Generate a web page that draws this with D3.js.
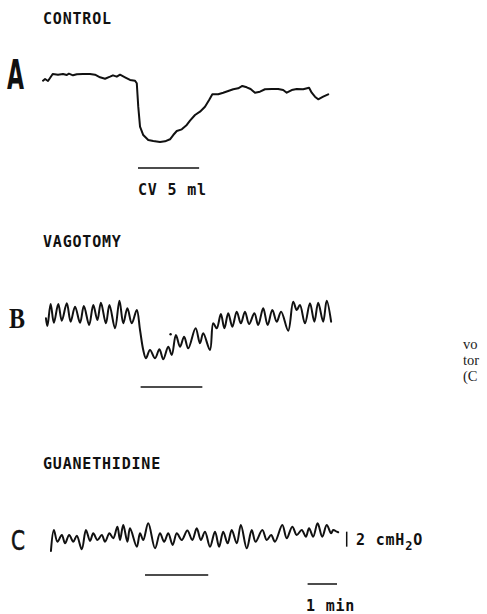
<!DOCTYPE html>
<html>
<head>
<meta charset="utf-8">
<script src="https://cdn.jsdelivr.net/npm/d3@7"></script>
<style>
  body { margin: 0; background: #fff; }
  .trace { fill: none; stroke: #111; stroke-width: 2; stroke-linejoin: round; stroke-linecap: round; }
  .bar { stroke: #111; stroke-width: 1.5; }
  .labelText { font-family: "DejaVu Sans Mono", monospace; font-weight: bold; font-size: 15px; letter-spacing: 0.8px; fill: #111; }
  .bodyText { font-family: "Liberation Serif", serif; font-size: 14.5px; fill: #222; }
</style>
</head>
<body>
<svg id="chart" width="487" height="614"></svg>
<script>
// panel names and letters
var panelTitles = ["CONTROL", "VAGOTOMY", "GUANETHIDINE"];
var panelLetters = ["A", "B", "C"];

// pressure traces, [time (min), pressure (cmH2O above panel base)]
var controlTrace = [
  [0.00, 8.57], [0.07, 8.80], [0.17, 8.53], [0.33, 9.47], [0.51, 9.37], [0.68, 9.47], [0.81, 9.33],
  [0.88, 9.51], [1.02, 9.29], [1.15, 9.43], [1.36, 9.47], [1.60, 9.47], [1.77, 9.37], [1.94, 9.03],
  [2.11, 8.84], [2.28, 9.11], [2.38, 9.29], [2.51, 9.11], [2.62, 9.37], [2.79, 9.03], [2.96, 8.67],
  [3.13, 8.57], [3.19, 8.23], [3.24, 5.11], [3.30, 2.44], [3.41, 1.33], [3.58, 0.67], [3.75, 0.53],
  [3.98, 0.40], [4.15, 0.49], [4.32, 0.76], [4.43, 1.33], [4.55, 1.87], [4.72, 2.09], [4.89, 2.67],
  [5.00, 3.24], [5.17, 4.00], [5.34, 4.44], [5.51, 5.11], [5.65, 6.00], [5.76, 6.76], [5.96, 6.76],
  [6.13, 6.97], [6.30, 7.20], [6.47, 7.43], [6.64, 7.56], [6.78, 7.87], [6.93, 7.69], [7.06, 7.47],
  [7.21, 6.97], [7.38, 7.11], [7.55, 7.43], [7.78, 7.47], [8.00, 7.47], [8.17, 7.33], [8.29, 6.97],
  [8.46, 7.33], [8.63, 7.47], [8.85, 7.43], [9.05, 7.64], [9.14, 6.97], [9.25, 6.44], [9.36, 6.09],
  [9.53, 6.44], [9.70, 6.76]
];

var vagotomyTrace = [
  [0.10, 5.56], [0.15, 4.53], [0.26, 7.47], [0.37, 4.97], [0.52, 7.47], [0.64, 5.24], [0.81, 7.56],
  [0.94, 5.11], [1.09, 7.11], [1.26, 4.97], [1.39, 7.20], [1.57, 4.67], [1.71, 7.33], [1.85, 5.33],
  [1.97, 7.64], [2.14, 4.89], [2.26, 7.33], [2.45, 4.23], [2.60, 7.91], [2.73, 4.89], [2.87, 6.89],
  [3.02, 4.89], [3.19, 6.67], [3.30, 4.00], [3.41, 1.33], [3.50, 0.23], [3.64, 1.33], [3.81, 0.23],
  [3.96, 1.43], [4.09, 0.09], [4.26, 1.77], [4.38, 0.67], [4.52, 3.33], [4.66, 1.77], [4.80, 3.11],
  [4.94, 1.56], [5.19, 4.23], [5.34, 2.23], [5.45, 3.56], [5.68, 1.33], [5.79, 4.89], [5.91, 4.23],
  [6.05, 6.13], [6.17, 4.23], [6.30, 6.23], [6.44, 4.44], [6.59, 6.44], [6.73, 4.89], [6.87, 6.44],
  [7.01, 4.80], [7.19, 6.23], [7.32, 4.67], [7.49, 6.89], [7.64, 4.67], [7.80, 6.67], [7.95, 5.11],
  [8.10, 6.44], [8.34, 3.91], [8.51, 7.77], [8.63, 6.67], [8.74, 7.33], [8.91, 4.89], [9.08, 7.56],
  [9.23, 5.11], [9.36, 7.64], [9.53, 5.11], [9.65, 7.91], [9.80, 5.11]
];
var vagotomySpeck = [[4.34, 3.43]];

var guanethidineTrace = [
  [0.27, 0.13], [0.37, 2.93], [0.49, 1.37], [0.64, 2.27], [0.75, 1.16], [0.89, 2.27], [1.03, 1.37],
  [1.15, 2.17], [1.32, 0.36], [1.46, 2.93], [1.60, 1.47], [1.71, 2.49], [1.85, 1.60], [2.00, 2.27],
  [2.11, 1.37], [2.26, 2.49], [2.39, 1.83], [2.53, 3.37], [2.62, 1.60], [2.73, 3.60], [2.87, 1.37],
  [2.96, 3.16], [3.19, 0.71], [3.30, 2.49], [3.41, 1.60], [3.58, 3.83], [3.81, 0.49], [3.98, 2.49],
  [4.12, 1.37], [4.26, 2.49], [4.41, 0.93], [4.55, 2.49], [4.72, 1.60], [4.91, 2.87], [5.08, 1.60],
  [5.23, 3.16], [5.37, 1.60], [5.51, 2.71], [5.68, 0.71], [5.85, 2.71], [5.99, 0.71], [6.13, 2.71],
  [6.28, 1.16], [6.42, 2.93], [6.59, 1.16], [6.73, 3.60], [6.93, 0.49], [7.10, 2.93], [7.23, 1.37],
  [7.46, 2.93], [7.61, 1.60], [7.76, 2.27], [7.89, 1.37], [8.14, 3.60], [8.29, 1.83], [8.48, 3.37],
  [8.63, 2.27], [8.80, 2.93], [8.94, 2.04], [9.05, 3.16], [9.19, 2.04], [9.34, 3.83], [9.50, 2.04],
  [9.65, 3.60], [9.80, 2.49], [9.87, 2.93], [9.99, 2.71], [10.04, 2.63]
];

// CV 5 ml infusion period for each panel (min)
var infusionStart = [3.23, 3.32, 3.47];
var infusionEnd = [5.31, 5.42, 5.62];

// calibration bars
var timeBar = [9.0, 10.0];          // 1 min
var pressureBar = [0.71, 2.71];     // 2 cmH2O
var pressureBarTime = 10.33;

// caption fragments visible at the right edge
var captionLines = ["vo", "tor", "(C"];

var svg = d3.select("#chart");

var traces = [controlTrace, vagotomyTrace, guanethidineTrace];
var panelBase = [145, 360, 552];
var titleY = [24, 247, 469];
var barY = [168, 387, 575];

var x = d3.scaleLinear().domain([0, 10]).range([43, 337]);

function yScale(i) {
    return d3.scaleLinear().domain([0, 10]).range([panelBase[i], panelBase[i] - 75]);
}

// draw panel titles
svg.selectAll(".panelTitle")
    .data(panelTitles)
    .enter().append("text")
    .attr("class", "panelTitle labelText")
    .attr("x", 43)
    .attr("y", function(d, i) { return titleY[i]; })
    .text(function(d) { return d; });

// draw pressure traces
traces.forEach(function(trace, i) {
    var y = yScale(i);
    var line = d3.line()
        .x(function(d) { return x(d[0]); })
        .y(function(d) { return y(d[1]); })
        .curve(i == 0 ? d3.curveLinear : d3.curveCatmullRom.alpha(0.5));

    svg.append("path")
        .datum(trace)
        .attr("class", "trace")
        .attr("d", line);

    // infusion bar
    svg.append("line")
        .attr("class", "bar")
        .attr("x1", x(infusionStart[i]))
        .attr("x2", x(infusionEnd[i]))
        .attr("y1", barY[i])
        .attr("y2", barY[i]);
});

// speck on vagotomy trace
svg.selectAll(".speck")
    .data(vagotomySpeck)
    .enter().append("circle")
    .attr("class", "speck")
    .attr("cx", function(d) { return x(d[0]); })
    .attr("cy", function(d) { return yScale(1)(d[1]); })
    .attr("r", 1.2)
    .attr("fill", "#111");

// panel letters
svg.append("text")
    .attr("x", 7).attr("y", 89)
    .attr("font-family", "DejaVu Sans")
    .attr("font-weight", "bold")
    .attr("font-size", 41)
    .attr("textLength", 17).attr("lengthAdjust", "spacingAndGlyphs")
    .attr("fill", "#111")
    .text(panelLetters[0]);

svg.append("text")
    .attr("x", 9).attr("y", 328)
    .attr("font-family", "Liberation Serif")
    .attr("font-weight", "bold")
    .attr("font-size", 30)
    .attr("textLength", 16).attr("lengthAdjust", "spacingAndGlyphs")
    .attr("fill", "#111")
    .text(panelLetters[1]);

svg.append("text")
    .attr("x", 11).attr("y", 550)
    .attr("font-family", "DejaVu Sans")
    .attr("font-size", 27)
    .attr("textLength", 14).attr("lengthAdjust", "spacingAndGlyphs")
    .attr("fill", "#111")
    .attr("stroke", "#111").attr("stroke-width", 0.6)
    .text(panelLetters[2]);

// infusion label
svg.append("text")
    .attr("class", "labelText")
    .attr("x", 138).attr("y", 195)
    .text("CV 5 ml");

// pressure calibration
var yc = yScale(2);
svg.append("line")
    .attr("class", "bar")
    .attr("x1", x(pressureBarTime)).attr("x2", x(pressureBarTime))
    .attr("y1", yc(pressureBar[0])).attr("y2", yc(pressureBar[1]));

var calText = svg.append("text")
    .attr("class", "labelText")
    .attr("x", 356).attr("y", 545);
calText.append("tspan").text("2 cmH");
calText.append("tspan").attr("dy", 5).attr("font-size", 12).text("2");
calText.append("tspan").attr("dy", -5).text("O");

// time calibration
svg.append("line")
    .attr("class", "bar")
    .attr("x1", x(timeBar[0])).attr("x2", x(timeBar[1]))
    .attr("y1", 584).attr("y2", 584);

svg.append("text")
    .attr("class", "labelText")
    .attr("x", 306).attr("y", 611)
    .text("1 min");

// caption fragments at right edge
svg.selectAll(".caption")
    .data(captionLines)
    .enter().append("text")
    .attr("class", "bodyText")
    .attr("x", 463)
    .attr("y", function(d, i) { return 349 + i * 16; })
    .text(function(d) { return d; });
</script>
</body>
</html>
